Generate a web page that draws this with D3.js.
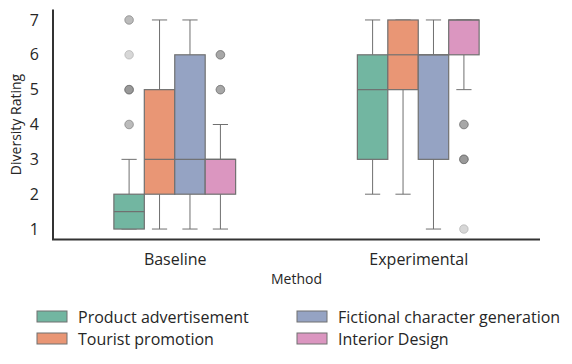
<!DOCTYPE html>
<html>
<head>
<meta charset="utf-8">
<script src="https://cdn.jsdelivr.net/npm/d3@7"></script>
<style>
  body { margin: 0; background: #fff; }
  text { font-family: "Open Sans", sans-serif; fill: #262626; }
</style>
</head>
<body>
<svg id="chart" width="572" height="364"></svg>
<script>
// categories and series
const methods = ["Baseline", "Experimental"];
const tasks = ["Product advertisement", "Tourist promotion", "Fictional character generation", "Interior Design"];
const colors = ["#72b6a1", "#e99675", "#95a3c3", "#db96c0"];
const yTicks = [1, 2, 3, 4, 5, 6, 7];

// box stats, one row per task: [Baseline, Experimental]
const q1 = [[1, 3], [2, 5], [2, 3], [2, 6]];
const median = [[1.5, 5], [3, 6], [3, 6], [3, 7]];
const q3 = [[2, 6], [5, 7], [6, 6], [3, 7]];
const whiskerLow = [[1, 2], [1, 2], [1, 1], [1, 5]];
const whiskerHigh = [[3, 7], [7, 7], [7, 7], [4, 7]];

// outliers: [task, method, value, count]
const outliers = [
  [0, 0, 7, 2], [0, 0, 6, 1], [0, 0, 5, 4], [0, 0, 4, 2],
  [3, 0, 6, 3], [3, 0, 5, 3],
  [3, 1, 4, 3], [3, 1, 3, 4], [3, 1, 1, 1]
];

const margin = {top: 9.5, right: 32, bottom: 124.5, left: 53};
const width = 572 - margin.left - margin.right;
const height = 364 - margin.top - margin.bottom;

const svg = d3.select("#chart");
const g = svg.append("g").attr("transform", `translate(${margin.left},${margin.top})`);

const x = d3.scaleLinear().domain([-0.5, methods.length - 0.5]).range([0, width]);
const y = d3.scaleLinear().domain([0.7, 7.3]).range([height, 0]);

const boxW = x(0.125) - x(0);
const offset = (t) => (t - (tasks.length - 1) / 2) * 0.125;

const boxes = [];
tasks.forEach((task, t) => {
  methods.forEach((m, i) => {
    boxes.push({t, i, cx: x(i + offset(t))});
  });
});

const lineCol = "#707070";

// whiskers
const bg = g.selectAll(".box").data(boxes).join("g").attr("class", "box");
bg.append("line")
  .attr("x1", d => d.cx).attr("x2", d => d.cx)
  .attr("y1", d => y(q3[d.t][d.i])).attr("y2", d => y(whiskerHigh[d.t][d.i]))
  .attr("stroke", lineCol).attr("stroke-width", 1);
bg.append("line")
  .attr("x1", d => d.cx).attr("x2", d => d.cx)
  .attr("y1", d => y(q1[d.t][d.i])).attr("y2", d => y(whiskerLow[d.t][d.i]))
  .attr("stroke", lineCol).attr("stroke-width", 1);
bg.selectAll(".cap").data(d => [whiskerLow[d.t][d.i], whiskerHigh[d.t][d.i]].map(v => ({v, cx: d.cx})))
  .join("line").attr("class", "cap")
  .attr("x1", d => d.cx - boxW / 4).attr("x2", d => d.cx + boxW / 4)
  .attr("y1", d => y(d.v)).attr("y2", d => y(d.v))
  .attr("stroke", lineCol).attr("stroke-width", 1);

// boxes
bg.append("rect")
  .attr("x", d => d.cx - boxW / 2)
  .attr("width", boxW)
  .attr("y", d => y(q3[d.t][d.i]))
  .attr("height", d => y(q1[d.t][d.i]) - y(q3[d.t][d.i]))
  .attr("fill", d => colors[d.t])
  .attr("stroke", lineCol).attr("stroke-width", 1.2);
bg.append("line")
  .attr("x1", d => d.cx - boxW / 2).attr("x2", d => d.cx + boxW / 2)
  .attr("y1", d => y(median[d.t][d.i])).attr("y2", d => y(median[d.t][d.i]))
  .attr("stroke", lineCol).attr("stroke-width", 1.2);

// outliers (stacked semi-transparent markers)
const pts = [];
outliers.forEach(([t, i, v, n]) => { for (let k = 0; k < n; k++) pts.push({t, i, v}); });
g.selectAll(".flier").data(pts).join("circle").attr("class", "flier")
  .attr("cx", d => x(d.i + offset(d.t)))
  .attr("cy", d => y(d.v))
  .attr("r", 4.3)
  .attr("fill", "#7a7a7a").attr("fill-opacity", 0.3)
  .attr("stroke", "#6a6a6a").attr("stroke-opacity", 0.3).attr("stroke-width", 1);

// axes
const yAxis = g.append("g")
  .call(d3.axisLeft(y).tickValues(yTicks).tickSize(0).tickPadding(14).tickFormat(d3.format("d")));
yAxis.select(".domain").remove();
yAxis.selectAll("text").style("font-size", "16px").style("fill", "#262626");

const xAxis = g.append("g").attr("transform", `translate(0,${height})`)
  .call(d3.axisBottom(x).tickValues([0, 1]).tickSize(0).tickPadding(14).tickFormat(i => methods[i]));
xAxis.select(".domain").remove();
xAxis.selectAll("text").style("font-size", "16px").style("fill", "#262626");

// spines
g.append("line").attr("x1", 0).attr("x2", 0).attr("y1", 0).attr("y2", height)
  .attr("stroke", "#333").attr("stroke-width", 2);
g.append("line").attr("x1", -1).attr("x2", width).attr("y1", height).attr("y2", height)
  .attr("stroke", "#333").attr("stroke-width", 2);

// axis titles
svg.append("text")
  .attr("transform", `translate(21,${margin.top + height / 2}) rotate(-90)`)
  .attr("text-anchor", "middle")
  .style("font-size", "14px")
  .text("Diversity Rating");
svg.append("text")
  .attr("x", margin.left + width / 2).attr("y", 284)
  .attr("text-anchor", "middle")
  .style("font-size", "14px")
  .text("Method");

// legend
const legendCols = [37, 297];
const legendRows = [311, 333];
const leg = svg.append("g").selectAll("g").data(tasks).join("g")
  .attr("transform", (d, k) => `translate(${legendCols[Math.floor(k / 2)]},${legendRows[k % 2]})`);
leg.append("rect").attr("width", 30).attr("height", 11)
  .attr("fill", (d, k) => colors[k]).attr("stroke", lineCol).attr("stroke-width", 1);
leg.append("text").attr("x", 41).attr("y", 12)
  .style("font-size", "16px")
  .text(d => d);
</script>
</body>
</html>
